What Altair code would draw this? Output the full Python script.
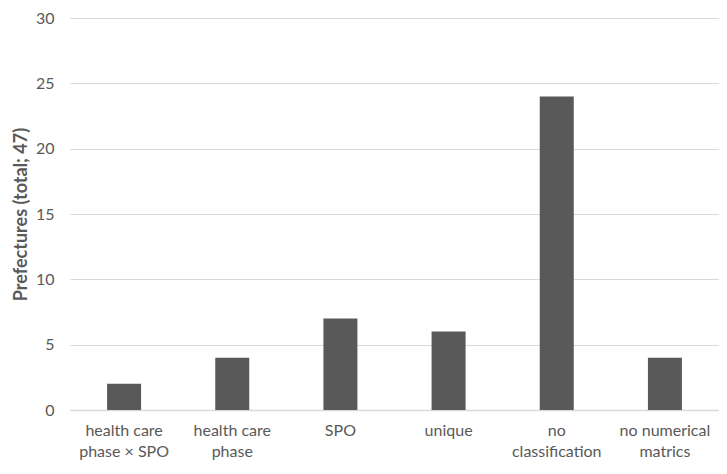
import altair as alt
import pandas as pd

categories = ["health care\nphase × SPO", "health care\nphase", "SPO", "unique",
              "no\nclassification", "no numerical\nmatrics"]
values = [2, 4, 7, 6, 24, 4]

df = pd.DataFrame({"cat": categories, "val": values})

FONT = "Lato"
GREY = "#595959"

chart = alt.Chart(df).mark_bar(size=34, color=GREY).encode(
    x=alt.X("cat:N", sort=categories, title=None,
            axis=alt.Axis(labelAngle=0, labelExpr="split(datum.label, '\\n')",
                          labelFont=FONT, labelFontSize=16, labelColor=GREY,
                          labelLineHeight=21, labelPadding=12, ticks=False,
                          domainColor="#d9d9d9", domainWidth=1.5,
                          labelBaseline="top")),
    y=alt.Y("val:Q", title="Prefectures (total; 47)",
            scale=alt.Scale(domain=[0, 30], nice=False),
            axis=alt.Axis(values=[0, 5, 10, 15, 20, 25, 30], ticks=False, domain=False,
                          labelFont=FONT, labelFontSize=16, labelColor=GREY,
                          labelPadding=16, gridColor="#d9d9d9", gridWidth=1,
                          titleFont=FONT, titleFontSize=18, titleColor=GREY,
                          titleFontWeight="bold", titlePadding=5)),
).properties(
    width=649, height=392,
    autosize=alt.AutoSizeParams(type="none"),
    padding={"left": 62, "top": 10, "right": 0, "bottom": 56},
).configure_view(stroke=None).configure_scale(bandPaddingInner=0.0, bandPaddingOuter=0.0)

chart.save("out.html", embed_options={"renderer": "svg", "actions": False})
